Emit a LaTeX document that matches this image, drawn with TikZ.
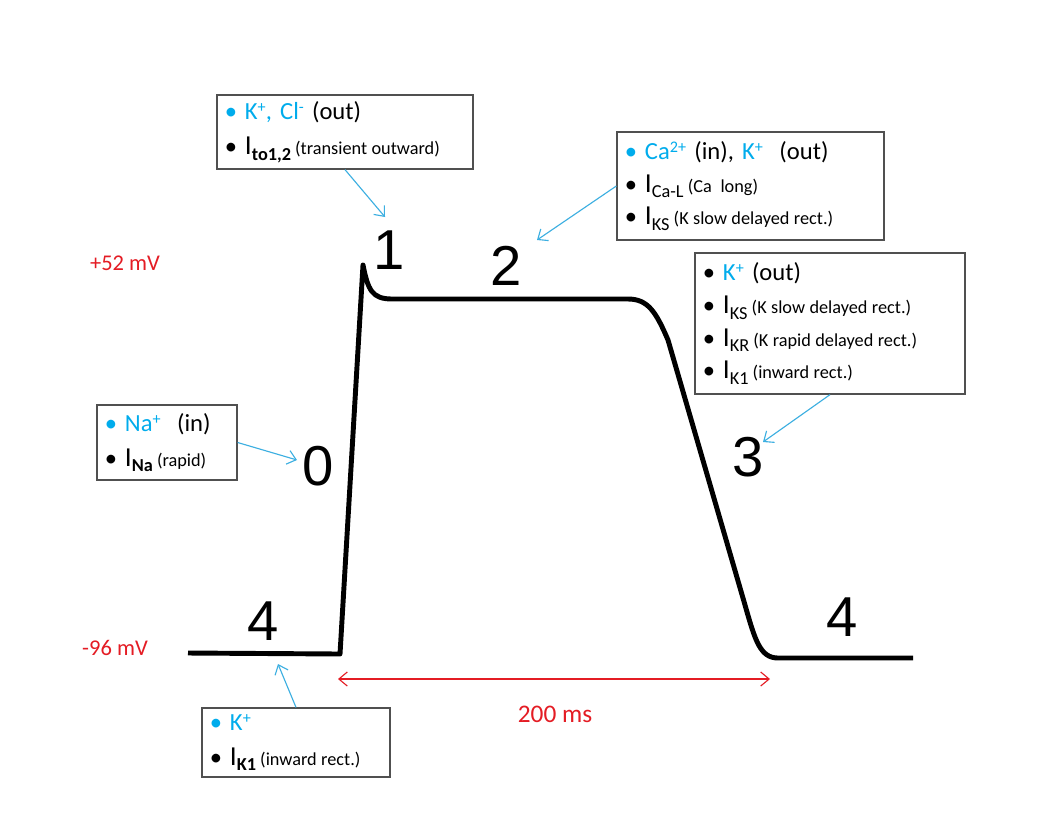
\documentclass[tikz,border=0pt]{standalone}
\usepackage{fontspec}
\setmainfont{Carlito}
\newfontfamily\phasefont{Liberation Sans}
\usetikzlibrary{arrows.meta}
\definecolor{ioncyan}{RGB}{0,172,236}
\definecolor{arrowcyan}{RGB}{60,175,225}
\definecolor{mvred}{RGB}{228,28,36}
\definecolor{boxgray}{RGB}{80,80,80}
\newcommand{\ionbul}{{\color{ioncyan}\textbullet}\hspace{5.5pt}}
\newcommand{\blkbul}{\textbullet\hspace{5.5pt}}
\newcommand{\chg}[1]{\raisebox{0.6ex}{\fontsize{11.5}{12}\selectfont #1}}
\newcommand{\cur}[2]{{\fontsize{19.5}{20}\selectfont I}\raisebox{-4pt}{\fontsize{13}{14}\selectfont #1}\,{\fontsize{13}{14}\selectfont\spaceskip=0.24em (#2)}}
\begin{document}
\begin{tikzpicture}
        [x=0.025cm,y=-0.025cm,
        ionbox/.style={draw=boxgray,line width=0.9pt,align=left,inner xsep=0.2cm,inner ysep=0pt,font=\fontsize{17.5}{25}\selectfont},
        phase/.style={font=\phasefont\fontsize{40}{40}\selectfont,inner sep=0pt},
        mvlabel/.style={text=mvred,inner sep=0pt,font=\fontsize{16}{18}\selectfont},
        pointer/.style={arrowcyan,line width=0.8pt,-{Straight Barb[length=6pt,width=10pt]}},
        apline/.style={line width=3.5pt,line join=round}]
        \fill[white] (0,0) rectangle (1044,818);
        \useasboundingbox (0,0) rectangle (1044,818);
        % action potential
        \draw[apline] (188,653) -- (340,654) -- (363,265)
          .. controls (368,290) and (372,299) .. (392,299) -- (628,299)
          .. controls (648,299) and (656,312) .. (668,340) -- (745,605)
          .. controls (755,640) and (760,658) .. (778,658) -- (913,658);
        \node[phase] (ph0) at (318,466) {0};
        \node[phase] (ph1) at (389,250) {1};
        \node[phase] (ph2) at (506,266) {2};
        \node[phase] (ph3) at (748,457) {3};
        \node[phase] (ph4a) at (263,621) {4};
        \node[phase] (ph4b) at (842,617) {4};
        \node[mvlabel] (vmax) at (125,263) {+52 mV};
        \node[mvlabel] (vrest) at (115,648) {-96 mV};
        % boxes
        \node[ionbox,text width=6.0cm,minimum height=1.85cm] (toout) at (345,132)
          {\ionbul{\color{ioncyan}K\chg{+}, Cl\chg{-}} (out)\\
           \blkbul\cur{\textbf{to1,2}}{transient outward}};
        \node[ionbox,text width=6.275cm,minimum height=2.7cm,font=\fontsize{17.5}{23}\selectfont] (caplat) at (750.5,186)
          {\ionbul{\color{ioncyan}Ca\chg{2+}} (in), {\color{ioncyan}K\chg{+}}\ \ (out)\\
           \blkbul\cur{Ca-L}{Ca\ \ long}\\
           \blkbul\cur{KS}{K slow delayed rect.}};
        \node[ionbox,text width=6.35cm,minimum height=3.525cm,font=\fontsize{17.5}{23.2}\selectfont] (krepol) at (830,323.5)
          {\blkbul{\color{ioncyan}K\chg{+}} (out)\\
           \blkbul\cur{KS}{K slow delayed rect.}\\
           \blkbul\cur{KR}{K rapid delayed rect.}\\
           \blkbul\cur{K1}{inward rect.}};
        \node[ionbox,text width=3.1cm,minimum height=1.875cm] (nain) at (167,442.5)
          {\ionbul{\color{ioncyan}Na\chg{+}}\ \ (in)\\
           \blkbul\cur{\textbf{Na}}{rapid}};
        \node[ionbox,text width=4.3cm,minimum height=1.725cm] (krest) at (296,742.5)
          {\ionbul{\color{ioncyan}K\chg{+}}\\
           \blkbul\cur{\textbf{K1}}{inward rect.}};
        % pointers
        \coordinate (to1) at (385,217);
        \coordinate (to2) at (537,240);
        \coordinate (to3) at (763,442);
        \coordinate (to0) at (297,460);
        \coordinate (to4) at (278,664);
        \draw[pointer] (toout.south) -- (to1);
        \draw[pointer] (caplat.west) -- (to2);
        \draw[pointer] (krepol.south) -- (to3);
        \draw[pointer] (nain.east) -- (to0);
        \draw[pointer] (krest.north) -- (to4);
        % duration
        \coordinate (tstart) at (338,679);
        \coordinate (tend) at (770,679);
        \draw[mvred,line width=0.8pt,{Straight Barb[length=6pt,width=10pt]}-{Straight Barb[length=6pt,width=10pt]}] (tstart) -- (tend);
        \node[mvlabel,font=\fontsize{18}{20}\selectfont] (dur) at (555,714) {200 ms};
\end{tikzpicture}
\end{document}
